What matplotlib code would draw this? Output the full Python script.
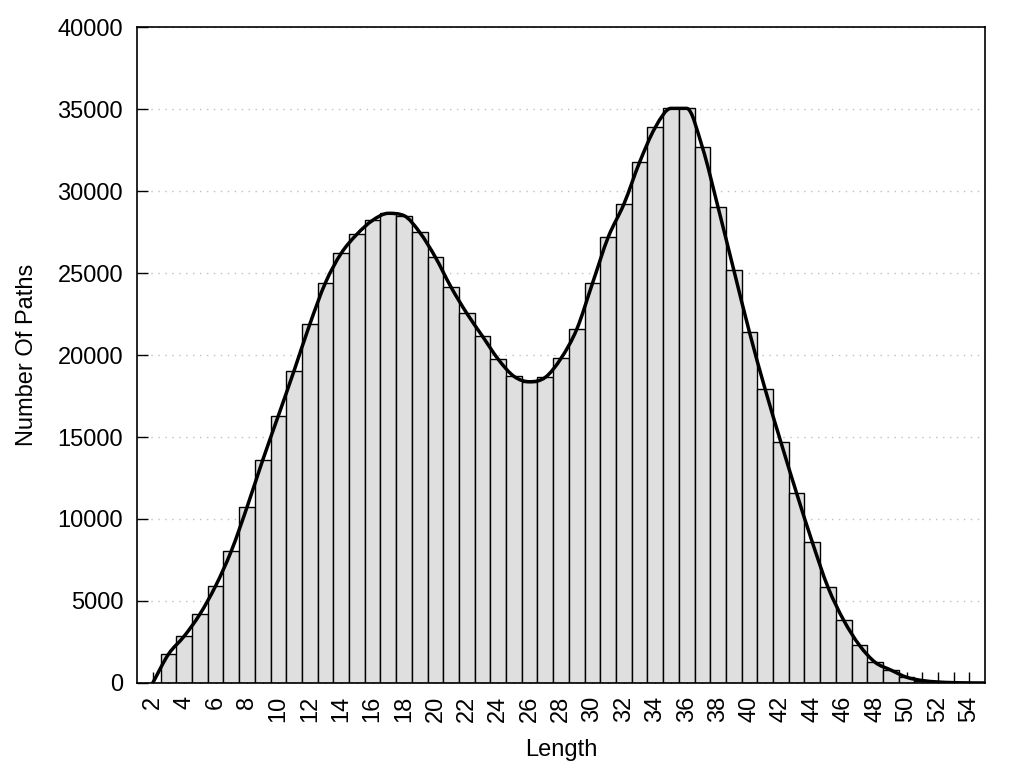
import matplotlib
matplotlib.use("Agg")
from matplotlib import pyplot as plt
from matplotlib.path import Path
from matplotlib.patches import PathPatch
import numpy as np

lengths = list(range(2, 56))
paths = [0, 1750, 2850, 4190, 5910, 8040, 10710, 13580, 16300, 19040,
         21870, 24410, 26200, 27360, 28210, 28640, 28500, 27480, 25960, 24130,
         22540, 21140, 19740, 18700, 18370, 18640, 19800, 21570, 24370, 27180,
         29200, 31750, 33880, 35040, 35040, 32660, 29000, 25180, 21380, 17900,
         14680, 11570, 8580, 5830, 3820, 2300, 1260, 790, 350, 150,
         60, 20, 5, 0]
tick_pos = list(range(2, 55))
tick_labels = [str(t) if t % 2 == 0 else "" for t in tick_pos]

plt.rcParams['font.family'] = ['Liberation Sans', 'DejaVu Sans']

fig = plt.figure(figsize=(10.24, 7.68), dpi=100)
ax = fig.add_axes([0.1338, 0.1107, 0.8282, 0.8541])

ax.bar(lengths, paths, width=1.0, color="#dfdfdf", edgecolor="black",
       linewidth=1.0, zorder=2)

# monotone cubic (like gnuplot mcsplines) drawn as bezier segments
x = np.array(lengths, dtype=float)
y = np.array(paths, dtype=float)
d = np.diff(y) / np.diff(x)
m = np.zeros_like(y)
m[0], m[-1] = d[0], d[-1]
for k in range(1, len(y) - 1):
    if d[k - 1] * d[k] > 0:
        m[k] = (d[k - 1] + d[k]) / 2
for k in range(len(d)):
    if d[k] == 0:
        m[k] = m[k + 1] = 0
        continue
    a, b = m[k] / d[k], m[k + 1] / d[k]
    if a * a + b * b > 9:
        t = 3 / np.sqrt(a * a + b * b)
        m[k], m[k + 1] = t * a * d[k], t * b * d[k]

verts = [(x[0], y[0])]
codes = [Path.MOVETO]
for k in range(len(d)):
    h = x[k + 1] - x[k]
    verts += [(x[k] + h / 3, y[k] + m[k] * h / 3),
              (x[k + 1] - h / 3, y[k + 1] - m[k + 1] * h / 3),
              (x[k + 1], y[k + 1])]
    codes += [Path.CURVE4] * 3
ax.add_patch(PathPatch(Path(verts, codes), facecolor="none", edgecolor="black",
                       linewidth=2.5, zorder=3, capstyle="round"))

ax.set_xlim(1, 55)
ax.set_ylim(0, 40000)
ax.set_xticks(tick_pos)
ax.set_xticklabels(tick_labels, rotation=90, fontsize=17)
ax.set_yticks(range(0, 40001, 5000))
ax.tick_params(axis="y", direction="in", length=8, width=1, labelsize=17, pad=10)
ax.tick_params(axis="x", direction="in", length=8, width=1, pad=9)
ax.yaxis.grid(True, linestyle=(0, (1, 4)), color="#c0c0c0", linewidth=1, zorder=0)
ax.set_axisbelow(True)
for s in ax.spines.values():
    s.set_linewidth(1.2)

ax.set_xlabel("Length", fontsize=17, labelpad=12)
ax.set_ylabel("Number Of Paths", fontsize=17, labelpad=14)

fig.savefig("out.png", dpi=100)
